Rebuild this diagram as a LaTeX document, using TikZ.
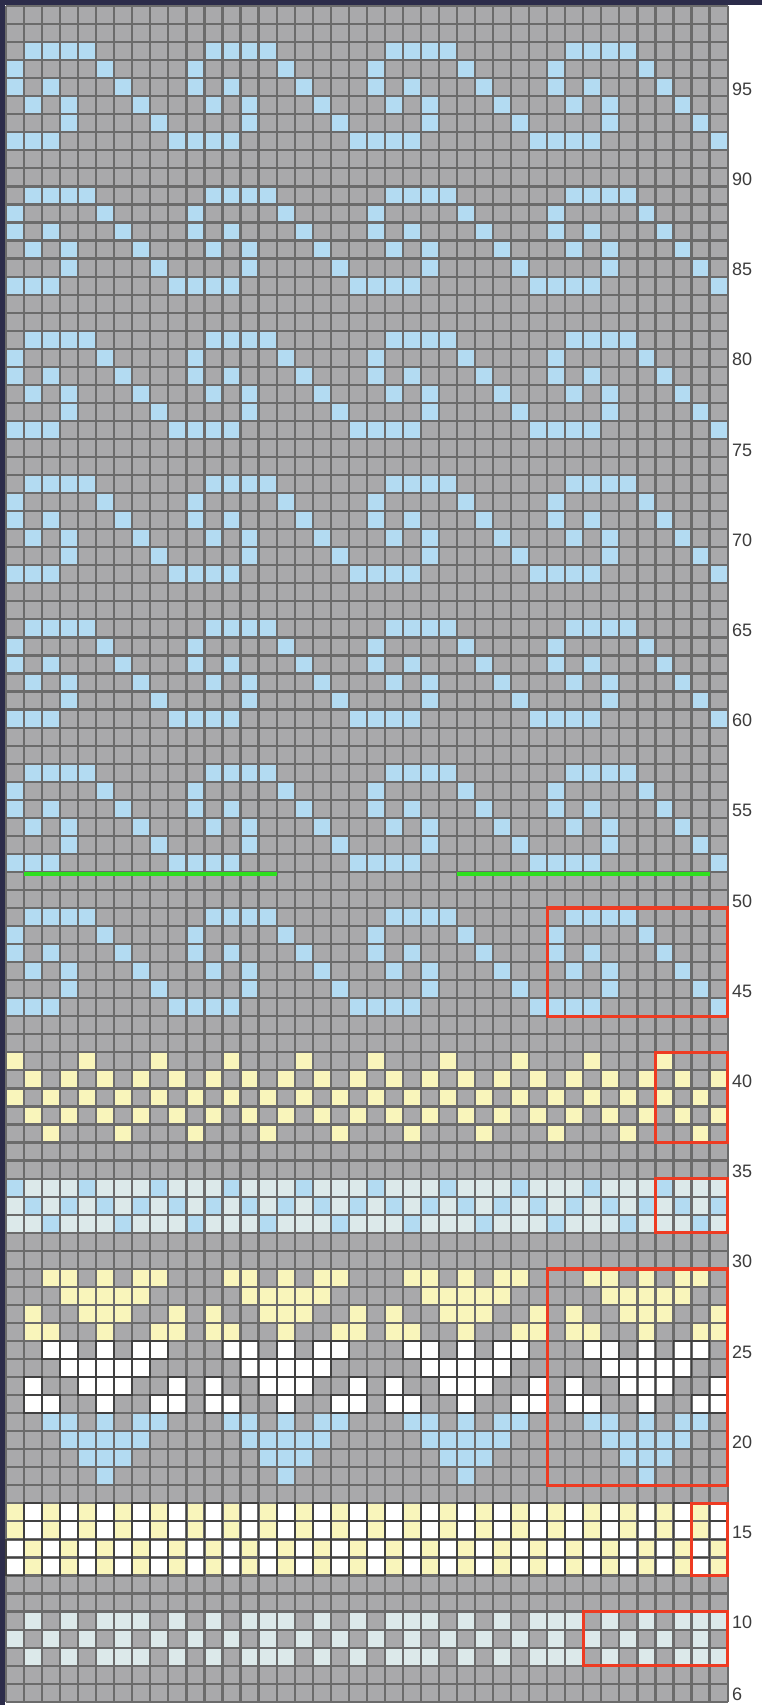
\documentclass[tikz,border=0pt]{standalone}
\usepackage{fontspec}
\setmainfont{Liberation Sans}
\definecolor{cellgray}{HTML}{A9A9AB}
\definecolor{gridcol}{HTML}{6B6B6B}
\definecolor{blu}{HTML}{B3DBF2}
\definecolor{palec}{HTML}{DCE9EA}
\definecolor{yel}{HTML}{F9F5BB}
\definecolor{navyc}{HTML}{2C2C4A}
\definecolor{redc}{HTML}{EE3B22}
\definecolor{grnc}{HTML}{2EE01E}
\definecolor{lblc}{HTML}{3C3C3C}
\newcommand{\cellsz}{18.04}
\newcommand{\kc}[3]{\fill[#3] ({6+\cellsz*((#1)-1)},{6+\cellsz*(99-(#2))}) rectangle ++(\cellsz,\cellsz);}
\newcommand{\kb}[2]{\draw[whiteedge] ({6+\cellsz*((#1)-1)},{6+\cellsz*(99-(#2))}) rectangle ++(\cellsz,\cellsz);}
\begin{document}
\begin{tikzpicture}[x=1pt,y=-1pt,
  gridline/.style={draw=gridcol,line width=2.2pt},
  whiteedge/.style={draw=black!75,line width=1.8pt},
  redbox/.style={draw=redc,line width=3.4pt},
  greenline/.style={draw=grnc,line width=4pt},
  lbl/.style={anchor=west,inner sep=0pt,text=lblc,font=\fontsize{18}{18}\selectfont}]
\useasboundingbox (0,0) rectangle (762,1705);
\fill[white] (0,0) rectangle (762,1705);
% background cells
\fill[cellgray] (6,6) rectangle ({6+\cellsz*40},{6+\cellsz*94});
% spiral motif
\foreach \t in {97,89,81,73,65,57,49}{
  \foreach \p in {0,10,20,30}{
    \foreach \c in {2,3,4,5}{\kc{\p+\c}{\t}{blu}}
    \foreach \c in {1,6}{\kc{\p+\c}{\t-1}{blu}}
    \foreach \c in {1,3,7}{\kc{\p+\c}{\t-2}{blu}}
    \foreach \c in {2,4,8}{\kc{\p+\c}{\t-3}{blu}}
    \foreach \c in {4,9}{\kc{\p+\c}{\t-4}{blu}}
    \foreach \c in {1,2,3,10}{\kc{\p+\c}{\t-5}{blu}}
  }
}
% yellow zigzag rows 41-37
\foreach \c in {1,5,...,37}{\kc{\c}{41}{yel}}
\foreach \c in {2,4,...,40}{\kc{\c}{40}{yel}}
\foreach \c in {1,3,...,39}{\kc{\c}{39}{yel}}
\foreach \c in {2,4,...,40}{\kc{\c}{38}{yel}}
\foreach \c in {3,7,...,39}{\kc{\c}{37}{yel}}
% pale band rows 34-32
\fill[palec] (6,{6+\cellsz*65}) rectangle ({6+\cellsz*40},{6+\cellsz*68});
\foreach \c in {1,5,...,37}{\kc{\c}{34}{blu}}
\foreach \c in {2,4,...,40}{\kc{\c}{33}{blu}}
\foreach \c in {3,7,...,39}{\kc{\c}{32}{blu}}
% heart motifs rows 29-18
\foreach \p in {0,10,20,30}{
  \foreach \r/\col in {29/yel,25/white,21/blu}{
    \foreach \c in {3,4,6,8,9}{\kc{\p+\c}{\r}{\col}}}
  \foreach \r/\col in {28/yel,24/white,20/blu}{
    \foreach \c in {4,5,6,7,8}{\kc{\p+\c}{\r}{\col}}}
  \foreach \r/\col in {27/yel,23/white}{
    \foreach \c in {2,5,6,7,10}{\kc{\p+\c}{\r}{\col}}}
  \foreach \r/\col in {26/yel,22/white}{
    \foreach \c in {2,3,6,9,10}{\kc{\p+\c}{\r}{\col}}}
  \foreach \c in {5,6,7}{\kc{\p+\c}{19}{blu}}
  \kc{\p+6}{18}{blu}
}
% yellow/white stripes rows 16-13
\foreach \c in {1,3,...,39}{
  \kc{\c}{16}{yel}\kc{\c}{15}{yel}\kc{\c}{14}{white}\kc{\c}{13}{white}}
\foreach \c in {2,4,...,40}{
  \kc{\c}{16}{white}\kc{\c}{15}{white}\kc{\c}{14}{yel}\kc{\c}{13}{yel}}
% pale dots rows 10-8
\foreach \p in {0,8,16,24,32}{
  \foreach \c in {2,4,6,7,8}{\kc{\p+\c}{10}{palec}\kc{\p+\c}{8}{palec}}}
\foreach \c in {1,3,...,39}{\kc{\c}{9}{palec}}
% grid lines
\foreach \i in {0,...,40}{
  \draw[gridline] ({6+\cellsz*\i},6) -- ({6+\cellsz*\i},{6+\cellsz*94});}
\foreach \j in {0,...,94}{
  \draw[gridline] (6,{6+\cellsz*\j}) -- ({6+\cellsz*40},{6+\cellsz*\j});}
% darker edges round white cells
\foreach \p in {0,10,20,30}{
  \foreach \c in {3,4,6,8,9}{\kb{\p+\c}{25}}
  \foreach \c in {4,5,6,7,8}{\kb{\p+\c}{24}}
  \foreach \c in {2,5,6,7,10}{\kb{\p+\c}{23}}
  \foreach \c in {2,3,6,9,10}{\kb{\p+\c}{22}}
}
\foreach \c in {1,3,...,39}{\kb{\c}{14}\kb{\c}{13}}
\foreach \c in {2,4,...,40}{\kb{\c}{16}\kb{\c}{15}}
% frame
\fill[navyc] (0,0) rectangle (762,5);
\fill[navyc] (0,0) rectangle (5,1705);
% green lines
\coordinate (g1a) at ({6+\cellsz*1},{6+\cellsz*48+2.5});
\coordinate (g1b) at ({6+\cellsz*15},{6+\cellsz*48+2.5});
\coordinate (g2a) at ({6+\cellsz*25},{6+\cellsz*48+2.5});
\coordinate (g2b) at ({6+\cellsz*39},{6+\cellsz*48+2.5});
\draw[greenline] (g1a) -- (g1b);
\draw[greenline] (g2a) -- (g2b);
% red boxes
\draw[redbox] ({6+\cellsz*30},{6+\cellsz*50}) rectangle ({6+\cellsz*40},{6+\cellsz*56});
\draw[redbox] ({6+\cellsz*36},{6+\cellsz*58}) rectangle ({6+\cellsz*40},{6+\cellsz*63});
\draw[redbox] ({6+\cellsz*36},{6+\cellsz*65}) rectangle ({6+\cellsz*40},{6+\cellsz*68});
\draw[redbox] ({6+\cellsz*30},{6+\cellsz*70}) rectangle ({6+\cellsz*40},{6+\cellsz*82});
\draw[redbox] ({6+\cellsz*38},{6+\cellsz*83}) rectangle ({6+\cellsz*40},{6+\cellsz*87});
\draw[redbox] ({6+\cellsz*32},{6+\cellsz*89}) rectangle ({6+\cellsz*40},{6+\cellsz*92});
% row labels
\foreach \r in {95,90,...,10}{
  \node[lbl] (lab\r) at (732,{6+\cellsz*(99.5-\r)+2}) {\r};}
\node[lbl] (lab6) at (732,{6+\cellsz*93.5+2}) {6};
\end{tikzpicture}
\end{document}
